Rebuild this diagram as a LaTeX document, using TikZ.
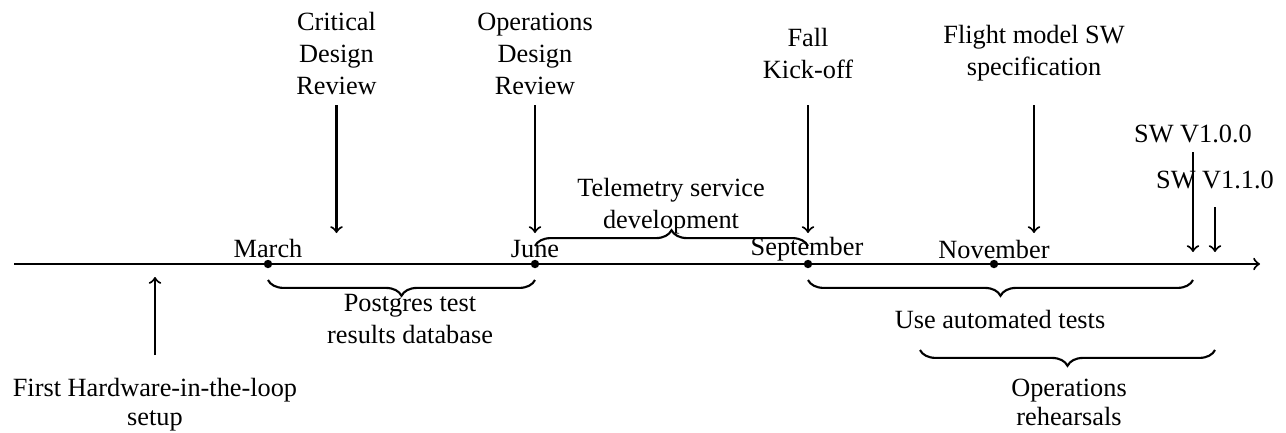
\documentclass[tikz,border=0pt]{standalone}
\usepackage{fontspec}
\setmainfont{Liberation Serif}
\usetikzlibrary{decorations.pathreplacing}
\begin{document}
\begin{tikzpicture}[x=0.38pt,y=-0.38pt,
  every node/.style={inner sep=0pt, font=\fontsize{10}{12}\selectfont},
  lbl/.style={align=center, anchor=base},
  tight/.style={font=\fontsize{10}{10.7}\selectfont},
  monthdot/.style={circle, fill, inner sep=0pt, minimum size=3.2pt},
  evt/.style={->, thick},
  brc/.style={thick, decorate, decoration={brace, amplitude=6pt}}
]
\useasboundingbox (0,0) rectangle (1286,432);

% time axis
\coordinate (axL) at (14,264);
\coordinate (axR) at (1260,264);
\draw[thick,->] (axL) -- (axR);

% months
\node[monthdot] (mar) at (268,264) {};
\node[monthdot] (jun) at (535,264) {};
\node[monthdot] (sep) at (808,264) {};
\node[monthdot] (nov) at (994,264) {};
\node[anchor=base] (marT) at (268,257) {March};
\node[anchor=base] (junT) at (535,257) {June};
\node[anchor=base] (sepT) at (807,255) {September};
\node[anchor=base] (novT) at (994,258) {November};

% milestones above the axis (labels placed by their last baseline)
\node[lbl] (cdr) at (336.5,94) {Critical\\Design\\Review};
\coordinate (cdrA) at (336.5,105); \coordinate (cdrB) at (336.5,233);
\draw[evt] (cdrA) -- (cdrB);

\node[lbl] (odr) at (535,94) {Operations\\Design\\Review};
\coordinate (odrA) at (535,105); \coordinate (odrB) at (535,233);
\draw[evt] (odrA) -- (odrB);

\node[lbl] (fko) at (808,78) {Fall\\Kick-off};
\coordinate (fkoA) at (808,105); \coordinate (fkoB) at (808,233);
\draw[evt] (fkoA) -- (fkoB);

\node[lbl] (fms) at (1034,75) {Flight model SW\\specification};
\coordinate (fmsA) at (1034,105); \coordinate (fmsB) at (1034,233);
\draw[evt] (fmsA) -- (fmsB);

\node[lbl] (v100) at (1193,142) {SW V1.0.0};
\coordinate (v100A) at (1193,152); \coordinate (v100B) at (1193,252);
\draw[evt] (v100A) -- (v100B);

\node[lbl] (v110) at (1215,188) {SW V1.1.0};
\coordinate (v110A) at (1215,207); \coordinate (v110B) at (1215,252);
\draw[evt] (v110A) -- (v110B);

% milestone below the axis
\node[lbl,tight] (hil) at (155,425) {First Hardware-in-the-loop\\setup};
\coordinate (hilA) at (155,355); \coordinate (hilB) at (155,277);
\draw[evt] (hilA) -- (hilB);

% periods
\coordinate (pgL) at (268,280); \coordinate (pgR) at (535,280);
\draw[brc] (pgR) -- (pgL);
\node[lbl] (pg) at (410,343) {Postgres test\\results database};

\coordinate (tmL) at (535,246); \coordinate (tmR) at (808,246);
\draw[brc] (tmL) -- (tmR);
\node[lbl] (tm) at (671,228) {Telemetry service\\development};

\coordinate (atL) at (808,280); \coordinate (atR) at (1193,280);
\draw[brc] (atR) -- (atL);
\node[lbl] (at) at (1000,328) {Use automated tests};

\coordinate (orL) at (920,350); \coordinate (orR) at (1215,350);
\draw[brc] (orR) -- (orL);
\node[lbl,tight] (or) at (1069,425) {Operations\\rehearsals};
\end{tikzpicture}
\end{document}
